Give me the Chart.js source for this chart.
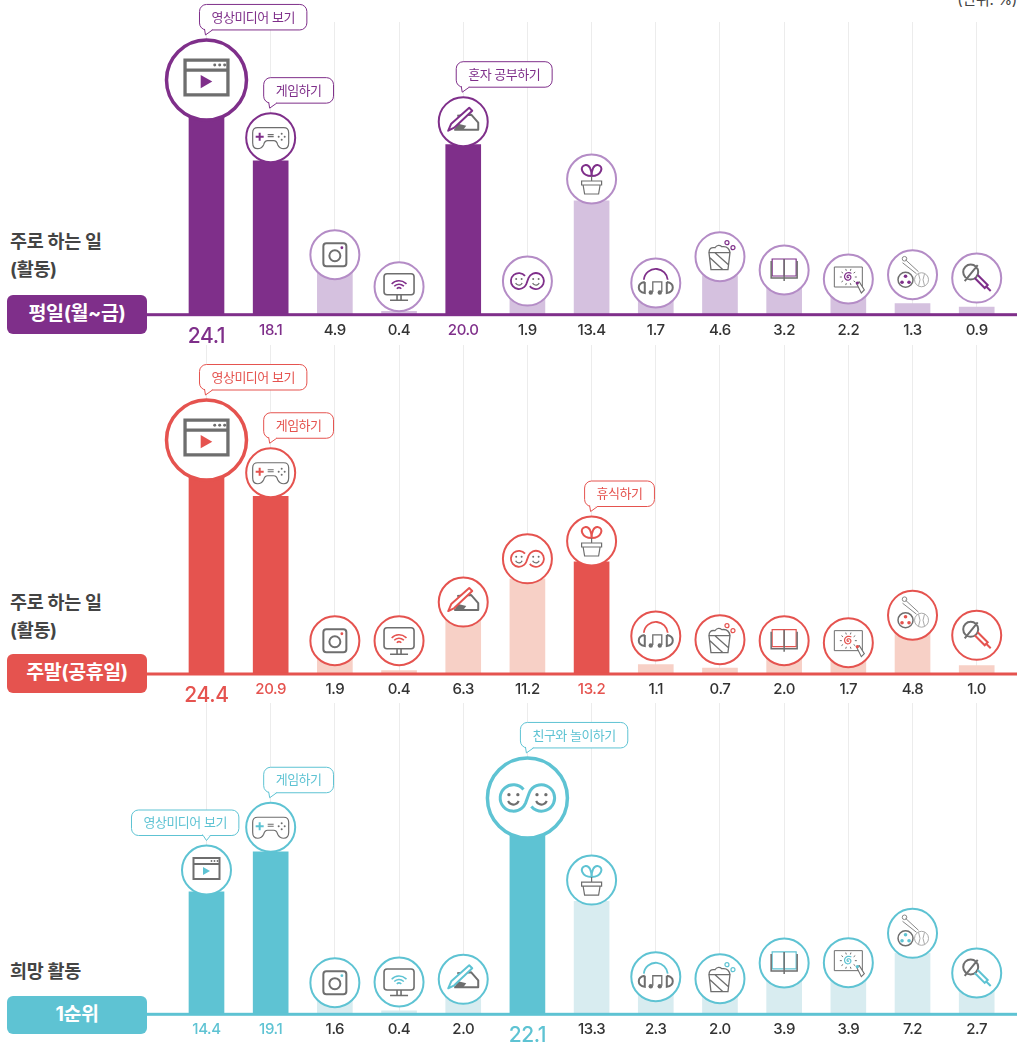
<!DOCTYPE html>
<html lang="ko">
<head>
<meta charset="utf-8">
<title>주로 하는 일과 희망 활동</title>
<script src="https://cdn.jsdelivr.net/npm/chart.js@4/dist/chart.umd.min.js"></script>
<style>
  html, body { margin: 0; padding: 0; background: #fff; }
  body { position: relative; width: 1017px; height: 1046px; overflow: hidden; font-family: Inter, "Noto Sans CJK KR", "Noto Sans", sans-serif; }
  canvas { position: absolute; left: 0; }
  .unit { position: absolute; right: 0; top: -10px; font-size: 15px; line-height: 20px; color: #444; letter-spacing: -0.3px; }
  .title { position: absolute; left: 10px; font-size: 18.5px; line-height: 28px; font-weight: 700; color: #444; letter-spacing: -0.3px; }
  .badge { position: absolute; left: 7px; width: 140px; height: 38.5px; line-height: 37px; border-radius: 6px; color: #fff; text-align: center; font-size: 19.5px; font-weight: 700; letter-spacing: -0.4px; }
</style>
</head>
<body>
<div class="unit">(단위: %)</div>
<div class="title" style="top:227px">주로 하는 일<br>(활동)</div>
<div class="badge" style="top:295px;background:#7f2f8a">평일(월~금)</div>
<div class="title" style="top:588px">주로 하는 일<br>(활동)</div>
<div class="badge" style="top:654px;background:#e5534f">주말(공휴일)</div>
<div class="title" style="top:957px">희망 활동</div>
<div class="badge" style="top:995.5px;background:#5ec3d3">1순위</div>
<canvas id="chart-hope"></canvas>
<canvas id="chart-weekend"></canvas>
<canvas id="chart-weekday"></canvas>
<script>
// activity keys, the picture only names some of them (see calloutNames)
const categories = ["video", "game", "sns", "internet", "study", "friends", "rest", "music", "bucket", "book", "art", "sport", "karaoke"];
const weekdayValues = [24.1, 18.1, 4.9, 0.4, 20.0, 1.9, 13.4, 1.7, 4.6, 3.2, 2.2, 1.3, 0.9];
const weekendValues = [24.4, 20.9, 1.9, 0.4, 6.3, 11.2, 13.2, 1.1, 0.7, 2.0, 1.7, 4.8, 1.0];
const hopeValues = [14.4, 19.1, 1.6, 0.4, 2.0, 22.1, 13.3, 2.3, 2.0, 3.9, 3.9, 7.2, 2.7];
const calloutNames = { video: "영상미디어 보기", game: "게임하기", study: "혼자 공부하기", friends: "친구와 놀이하기", rest: "휴식하기" };

// how far each icon floats above the top of its bar, px
const weekdayLift = [29.9, 23.2, 18.3, 24.6, 23, 17.5, 21.8, 17.3, 18.9, 17.5, 17, 28.9, 29];
const weekendLift = [26.6, 23.6, 17.1, 29.9, 18.4, 20, 20.8, 28.7, 28.4, 16.3, 16.9, 18, 30.2];
const hopeLift = [21.9, 24.7, 18, 28.9, 18, 28.5, 21.2, 18, 18.6, 18.2, 18.5, 19.8, 18.4];

const PX_PER_UNIT = 8.5;
const GREY = "#6e6e6e";
const FONT = 'Inter, "Noto Sans CJK KR", "Noto Sans", sans-serif';

const line = (ctx, color, width, draw) => {
  ctx.beginPath();
  ctx.strokeStyle = color;
  ctx.lineWidth = width;
  draw();
  ctx.stroke();
};
const dot = (ctx, color, x, y, r) => {
  ctx.beginPath();
  ctx.fillStyle = color;
  ctx.arc(x, y, r, 0, Math.PI * 2);
  ctx.fill();
};

const icons = {
  video(ctx, c) {
    line(ctx, GREY, 2, () => {
      ctx.rect(-13, -12, 26, 21);
      ctx.moveTo(-13, -6);
      ctx.lineTo(13, -6);
    });
    [5, 8, 11].forEach((x) => dot(ctx, GREY, x, -9, 0.9));
    ctx.beginPath();
    ctx.fillStyle = c;
    ctx.moveTo(-3.5, -3);
    ctx.lineTo(3.5, 1);
    ctx.lineTo(-3.5, 5);
    ctx.fill();
  },
  game(ctx, c) {
    line(ctx, GREY, 1.2, () => {
      ctx.moveTo(-13, -10);
      ctx.lineTo(13, -10);
      ctx.quadraticCurveTo(18, -10, 18, -5);
      ctx.lineTo(18, 5);
      ctx.quadraticCurveTo(18, 11, 13, 11);
      ctx.quadraticCurveTo(9, 11, 7, 7);
      ctx.quadraticCurveTo(6, 3, 3, 3);
      ctx.lineTo(-3, 3);
      ctx.quadraticCurveTo(-6, 3, -7, 7);
      ctx.quadraticCurveTo(-9, 11, -13, 11);
      ctx.quadraticCurveTo(-18, 11, -18, 5);
      ctx.lineTo(-18, -5);
      ctx.quadraticCurveTo(-18, -10, -13, -10);
    });
    line(ctx, c, 2, () => {
      ctx.moveTo(-15, -1);
      ctx.lineTo(-7, -1);
      ctx.moveTo(-11, -5);
      ctx.lineTo(-11, 3);
    });
    line(ctx, GREY, 1.2, () => {
      ctx.moveTo(-3, -3);
      ctx.lineTo(3, -3);
      ctx.moveTo(-3, -1);
      ctx.lineTo(3, -1);
    });
    [[11, -4], [11, 2], [8, -1], [14, -1]].forEach(([x, y]) => dot(ctx, GREY, x, y, 1));
  },
  sns(ctx, c) {
    line(ctx, GREY, 2, () => {
      ctx.roundRect(-11.5, -11.5, 23, 23, 3);
    });
    line(ctx, GREY, 2, () => {
      ctx.arc(0, 1, 5.5, 0, Math.PI * 2);
    });
    dot(ctx, c, 7, -7, 1.4);
  },
  internet(ctx, c) {
    line(ctx, GREY, 1.6, () => {
      ctx.roundRect(-15, -13, 30, 21, 3);
      ctx.moveTo(-2, 8);
      ctx.lineTo(-2, 13);
      ctx.moveTo(2, 8);
      ctx.lineTo(2, 13);
      ctx.moveTo(-9, 13.5);
      ctx.lineTo(9, 13.5);
    });
    [3, 6.5, 10].forEach((r) => {
      line(ctx, c, 1.5, () => {
        ctx.arc(0, 4, r, -2.4, -0.74);
      });
    });
  },
  study(ctx, c) {
    ctx.lineJoin = "round";
    ctx.beginPath();
    ctx.fillStyle = GREY;
    ctx.moveTo(-9, 8);
    ctx.lineTo(-5, 2);
    ctx.lineTo(3, 4);
    ctx.lineTo(0, 8);
    ctx.fill();
    line(ctx, GREY, 2, () => {
      ctx.moveTo(-6, -6);
      ctx.lineTo(8, -7);
      ctx.lineTo(15, 1);
      ctx.lineTo(15, 8);
      ctx.lineTo(-9, 8);
    });
    ctx.beginPath();
    ctx.fillStyle = "#fff";
    ctx.moveTo(-15, 9);
    ctx.lineTo(-12, 2);
    ctx.lineTo(6, -14);
    ctx.lineTo(9, -11);
    ctx.lineTo(-9, 6);
    ctx.fill();
    line(ctx, c, 2, () => {
      ctx.moveTo(-15, 9);
      ctx.lineTo(-12, 2);
      ctx.lineTo(6, -14);
      ctx.lineTo(9, -11);
      ctx.lineTo(-9, 6);
      ctx.closePath();
    });
  },
  friends(ctx, c) {
    line(ctx, c, 1.8, () => {
      ctx.arc(-8.5, 0, 8, -0.7, 0.4, true);
      ctx.arc(8.5, 0, 8, Math.PI + 0.4, Math.PI - 0.7);
    });
    [-8.5, 8.5].forEach((x) => {
      dot(ctx, GREY, x - 2.7, -2, 1);
      dot(ctx, GREY, x + 2.7, -2, 1);
      line(ctx, GREY, 1.3, () => {
        ctx.arc(x, 0.5, 3.5, 0.4, Math.PI - 0.4);
      });
    });
  },
  rest(ctx, c) {
    line(ctx, c, 2, () => {
      ctx.moveTo(0, -3);
      ctx.bezierCurveTo(-10, -3, -13, -13, -6, -14);
      ctx.bezierCurveTo(-2, -14.5, 0, -9, 0, -3);
      ctx.bezierCurveTo(0, -9, 2, -14.5, 6, -14);
      ctx.bezierCurveTo(13, -13, 10, -3, 0, -3);
    });
    line(ctx, GREY, 1.2, () => {
      ctx.moveTo(0, -3);
      ctx.lineTo(0, 2);
      ctx.rect(-10, 2, 20, 4);
      ctx.moveTo(-8.5, 6);
      ctx.lineTo(-7, 15);
      ctx.lineTo(7, 15);
      ctx.lineTo(8.5, 6);
    });
  },
  music(ctx, c) {
    line(ctx, c, 1.8, () => {
      ctx.arc(0, -2, 12, Math.PI + 0.1, -0.1);
    });
    line(ctx, GREY, 2, () => {
      ctx.moveTo(-11, -1);
      ctx.lineTo(-11, 10);
      ctx.quadraticCurveTo(-17, 9, -17, 4.5);
      ctx.quadraticCurveTo(-17, 0, -11, -1);
      ctx.moveTo(11, -1);
      ctx.lineTo(11, 10);
      ctx.quadraticCurveTo(17, 9, 17, 4.5);
      ctx.quadraticCurveTo(17, 0, 11, -1);
    });
    line(ctx, GREY, 1.3, () => {
      ctx.moveTo(-3, 9);
      ctx.lineTo(-3, -1);
      ctx.lineTo(6, -1);
      ctx.lineTo(6, 9);
    });
    dot(ctx, GREY, -5, 9.5, 2.2);
    dot(ctx, GREY, 4, 9.5, 2.2);
  },
  bucket(ctx, c) {
    line(ctx, GREY, 1.3, () => {
      ctx.moveTo(-11, -4);
      ctx.lineTo(10, -4);
      ctx.lineTo(8, 13);
      ctx.lineTo(-9, 13);
      ctx.closePath();
      ctx.moveTo(-10, 1);
      ctx.lineTo(3, 13);
      ctx.moveTo(-5, -4);
      ctx.lineTo(8.5, 8);
      ctx.moveTo(-11, -4);
      ctx.quadraticCurveTo(-11, -10, -5, -9);
      ctx.quadraticCurveTo(-2, -13, 2, -10);
      ctx.quadraticCurveTo(9, -11, 10, -4);
    });
    line(ctx, c, 1.2, () => {
      ctx.arc(7, -14, 2, 0, Math.PI * 2);
    });
    line(ctx, c, 1.2, () => {
      ctx.moveTo(15, -9);
      ctx.arc(13, -9, 2, 0, Math.PI * 2);
    });
  },
  book(ctx, c) {
    line(ctx, c, 1.2, () => {
      ctx.rect(-12, -11, 12, 17);
      ctx.rect(0, -11, 12, 17);
    });
    line(ctx, GREY, 1.5, () => {
      ctx.moveTo(-13, -9);
      ctx.lineTo(-13, 8);
      ctx.lineTo(13, 8);
      ctx.lineTo(13, -9);
      ctx.moveTo(0, -11);
      ctx.lineTo(0, 11);
    });
  },
  art(ctx, c) {
    line(ctx, GREY, 1, () => {
      ctx.rect(-14, -12, 28, 20);
      for (let i = 0; i < 10; i++) {
        const a = i * Math.PI / 5;
        ctx.moveTo(Math.cos(a) * 6.5, -2 + Math.sin(a) * 6.5);
        ctx.lineTo(Math.cos(a) * 8.5, -2 + Math.sin(a) * 8.5);
      }
    });
    line(ctx, c, 1.2, () => {
      for (let a = 0; a < 12; a += 0.3) {
        ctx.lineTo(Math.cos(a) * a * 0.4, -2 + Math.sin(a) * a * 0.4);
      }
    });
    ctx.fillStyle = "#fff";
    ctx.beginPath();
    ctx.moveTo(8, 4);
    ctx.lineTo(11, 3);
    ctx.lineTo(16, 11);
    ctx.lineTo(13, 14);
    ctx.closePath();
    ctx.fill();
    ctx.strokeStyle = GREY;
    ctx.lineWidth = 1.1;
    ctx.stroke();
    dot(ctx, c, 9, 4, 1.6);
  },
  sport(ctx, c) {
    line(ctx, GREY, 1.5, () => {
      ctx.arc(-7, 5, 7.5, 0, Math.PI * 2);
    });
    [[-7, 1.5], [-10.5, 7.5], [-3.5, 7.5]].forEach(([x, y]) => dot(ctx, c, x, y, 1.8));
    line(ctx, "#aaa", 1, () => {
      ctx.moveTo(16, 5);
      ctx.arc(9, 5, 7, 0, Math.PI * 2);
      ctx.moveTo(6, -1);
      ctx.quadraticCurveTo(9, 5, 6, 11);
      ctx.moveTo(12, -1);
      ctx.quadraticCurveTo(9, 5, 12, 11);
    });
    line(ctx, "#888", 1, () => {
      ctx.moveTo(-10, -12);
      ctx.lineTo(4, -1);
      ctx.moveTo(-7, -15);
      ctx.lineTo(6, -3);
      ctx.moveTo(-6, -16);
      ctx.arc(-8, -16, 2.3, 0, Math.PI * 2);
    });
  },
  karaoke(ctx, c) {
    line(ctx, GREY, 2, () => {
      ctx.arc(-6, -6, 7.5, 0, Math.PI * 2);
      ctx.moveTo(-12, 3);
      ctx.lineTo(1, -13);
    });
    line(ctx, c, 2, () => {
      ctx.moveTo(1, -3);
      ctx.lineTo(11, 7);
      ctx.lineTo(8, 10);
      ctx.lineTo(-2, 0);
      ctx.moveTo(9.5, 8.5);
      ctx.lineTo(14, 13);
    });
  },
};

// value labels, the baseline, icon circles and speech bubbles of one panel
const panelMarks = (panel) => ({
  id: "panelMarks",
  afterDatasetsDraw(chart) {
    const { ctx, scales } = chart;
    const base = scales.y.getPixelForValue(0);

    ctx.save();
    ctx.fillStyle = panel.color;
    ctx.fillRect(147, base - 1.5, 870, 3);

    panel.values.forEach((value, i) => {
      const x = scales.x.getPixelForValue(i);
      const top = scales.y.getPixelForValue(value);
      const big = i === panel.bigIndex;
      const strong = panel.strong.includes(i);
      const r = big ? 40 : 24.5;
      const y = top - panel.lift[i];

      ctx.textAlign = "center";
      ctx.textBaseline = "middle";
      ctx.letterSpacing = "-0.4px";
      ctx.font = big ? `500 21px ${FONT}` : `500 15px ${FONT}`;
      ctx.fillStyle = strong ? panel.color : "#333";
      ctx.fillText(value.toFixed(1), x, base + (big ? 21.5 : 15.5));

      ctx.beginPath();
      ctx.arc(x, y, r, 0, Math.PI * 2);
      ctx.fillStyle = "#fff";
      ctx.fill();
      ctx.lineWidth = big ? 3.5 : 2;
      ctx.strokeStyle = strong ? panel.color : panel.ring;
      ctx.stroke();

      ctx.save();
      ctx.translate(x, y);
      ctx.scale(big ? 1.65 : 1, big ? 1.65 : 1);
      icons[categories[i]](ctx, panel.color);
      ctx.restore();

      if (!strong) return;
      const text = calloutNames[categories[i]];
      ctx.font = `400 13px ${FONT}`;
      ctx.letterSpacing = "-0.5px";
      const w = ctx.measureText(text).width + 24;
      const h = 25.5;
      const centred = panel.centredCallout === i;
      const left = centred ? x - 75 : x - 7;
      const bottom = y - r - 10;
      ctx.beginPath();
      ctx.roundRect(left, bottom - h, w, h, 7);
      ctx.fillStyle = "#fff";
      ctx.fill();
      ctx.lineWidth = 1;
      ctx.strokeStyle = panel.color;
      ctx.stroke();
      ctx.beginPath();
      const from = centred ? x - 4 : left + 5;
      ctx.moveTo(from, bottom - 1);
      ctx.lineTo(centred ? x : left + 6, bottom + 5);
      ctx.lineTo(from + 8, bottom);
      ctx.fill();
      ctx.stroke();
      ctx.fillRect(from + 0.8, bottom - 1.5, 6.5, 1.5);
      ctx.fillStyle = panel.color;
      ctx.fillText(text, left + w / 2, bottom - h / 2 + 0.5);
    });
    ctx.restore();
  },
});

const buildChart = (canvasId, panel) => {
  const canvas = document.querySelector(`#${canvasId}`);
  canvas.width = 1017;
  canvas.height = panel.bottom - panel.top;
  canvas.style.top = `${panel.top}px`;

  const plotHeight = panel.baseline - panel.top;
  new Chart(canvas, {
    type: "bar",
    data: {
      labels: categories,
      datasets: [{
        data: panel.values,
        barThickness: 35,
        backgroundColor: panel.values.map((v, i) => (panel.strong.includes(i) ? panel.color : panel.light)),
      }],
    },
    options: {
      responsive: false,
      animation: false,
      devicePixelRatio: 1,
      layout: { padding: { left: 174.4, right: 8.2, top: panel.gridTop, bottom: panel.bottom - panel.baseline } },
      plugins: { legend: { display: false }, tooltip: { enabled: false } },
      scales: {
        x: {
          ticks: { display: false },
          border: { display: false },
          grid: { offset: false, drawTicks: false, color: "#ececec", lineWidth: 1 },
        },
        y: { display: false, min: 0, max: (plotHeight - panel.gridTop) / PX_PER_UNIT },
      },
    },
    plugins: [panelMarks(panel)],
  });
};

buildChart("chart-hope", {
  values: hopeValues, lift: hopeLift, strong: [0, 1, 5], bigIndex: 5, centredCallout: 0,
  color: "#5ec3d3", light: "#d8ecf0", ring: "#5ec3d3",
  top: 703, bottom: 1046, baseline: 1014.3, gridTop: 0,
});
buildChart("chart-weekend", {
  values: weekendValues, lift: weekendLift, strong: [0, 1, 6], bigIndex: 0,
  color: "#e5534f", light: "#f7d0c6", ring: "#e5534f",
  top: 345, bottom: 703, baseline: 674, gridTop: 0,
});
buildChart("chart-weekday", {
  values: weekdayValues, lift: weekdayLift, strong: [0, 1, 4], bigIndex: 0,
  color: "#7f2f8a", light: "#d5c1df", ring: "#b48cc6",
  top: 0, bottom: 345, baseline: 314.7, gridTop: 22,
});
</script>
</body>
</html>
